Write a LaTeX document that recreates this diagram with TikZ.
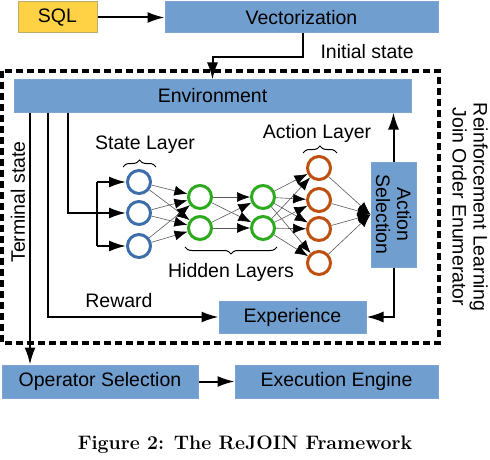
\documentclass[tikz,border=0pt]{standalone}
\usepackage{fontspec}
\setsansfont{Liberation Sans}
\usetikzlibrary{positioning, arrows.meta, decorations.pathreplacing}

\definecolor{boxblue}{RGB}{112,158,207}
\definecolor{boxline}{RGB}{125,165,210}
\definecolor{sqlyellow}{RGB}{255,210,70}
\definecolor{sqlline}{RGB}{190,170,110}
\definecolor{nblue}{RGB}{60,110,170}
\definecolor{ngreen}{RGB}{45,170,30}
\definecolor{norange}{RGB}{190,80,15}

\begin{document}
\begin{tikzpicture}[x=1pt,y=-1pt,
    every node/.style={font=\sffamily\fontsize{19.5}{21}\selectfont},
    box/.style={draw=boxline,fill=boxblue,line width=1pt,inner sep=0pt},
    neuron/.style={circle,line width=3pt,minimum size=23pt,inner sep=0pt},
    main/.style={line width=2pt,-{Latex[length=17pt,width=11pt]}},
    link/.style={line width=0.6pt,draw=black!65,-{Latex[length=13pt,width=10pt,black]}},
    brace/.style={decorate,decoration={brace,amplitude=7pt},line width=1pt}]
        \useasboundingbox (0,0) rectangle (490,460);
        \node[box,fill=sqlyellow,draw=sqlline,minimum width=79,minimum height=31] (sql) at (57.5,17.5) {SQL};
        \node[box,minimum width=273,minimum height=31] (vec) at (301.5,17.5) {Vectorization};
        \node[box,minimum width=397,minimum height=32] (env) at (212.5,96) {Environment};
        \node[box,minimum width=105,minimum height=45,align=center,rotate=-90] (asel) at (393.5,214.5) {Action\\Selection};
        \node[box,minimum width=147,minimum height=32] (exp) at (292.5,317) {Experience};
        \node[box,minimum width=196,minimum height=33] (opsel) at (100,381.5) {Operator Selection};
        \node[box,minimum width=203,minimum height=33] (exec) at (336.5,381.5) {Execution Engine};
        \draw[line width=3.5pt,dash pattern=on 7pt off 4pt] (2,71) rectangle (439,343);

        \foreach \i/\y in {1/182,2/213,3/246}
            \node[neuron,draw=nblue] (s_\i) at (139,\y) {};
        \foreach \i/\y in {1/197,2/228} {
            \node[neuron,draw=ngreen] (h_\i) at (200,\y) {};
            \node[neuron,draw=ngreen] (g_\i) at (263,\y) {};
        }
        \foreach \i/\y in {1/168,2/200,3/229,4/263}
            \node[neuron,draw=norange] (o_\i) at (319,\y) {};

        \foreach \a in {1,2,3}
            \foreach \b in {1,2}
                \draw[link] (s_\a) -- (h_\b);
        \foreach \a in {1,2}
            \foreach \b in {1,2}
                \draw[link] (h_\a) -- (g_\b);
        \foreach \a in {1,2}
            \foreach \b in {1,2,3,4}
                \draw[link] (g_\a) -- (o_\b);
        \foreach \a in {1,2,3,4}
            \draw[link] (o_\a) -- (asel.south);

        \coordinate (init) at (303,57);
        \coordinate (term) at (30,0);
        \coordinate (rew) at (48,317);
        \coordinate (st) at (68,213);
        \coordinate (split) at (97,213);
        \draw[main] (sql) -- (vec);
        \draw[main] (init |- vec.south) -- (init) -| (env.north);
        \draw[main] (term |- env.south) -- (term |- opsel.north);
        \draw[main] (rew |- env.south) -- (rew) -- (exp.west);
        \draw[line width=2pt] (st |- env.south) -- (st) -- (split);
        \draw[line width=2pt] (split |- s_1) -- (split |- s_3);
        \foreach \i in {1,2,3}
            \draw[main] (split |- s_\i) -- (s_\i.west);
        \draw[main] (asel.west) -- (asel.west |- env.south);
        \draw[main] (asel.east) |- (exp.east);
        \draw[main] (opsel) -- (exec);

        \node[anchor=west] (initlbl) at (317,52) {Initial state};
        \node[rotate=90] (termlbl) at (18,202) {Terminal state};
        \node (rewlbl) at (119,301) {Reward};
        \node (statelbl) at (145,145) {State Layer};
        \node (actlbl) at (317,133) {Action Layer};
        \node (hidlbl) at (231,272) {Hidden Layers};
        \node[rotate=-90,align=center] (rljoe) at (470,207) {Reinforcement Learning\\Join Order Enumerator};
        \draw[brace] (123,167) -- (156,167);
        \draw[brace] (303,153) -- (337,153);
        \draw[brace] (277,247) -- (185,247);

        \node[font=\bfseries\fontsize{19.5}{22}\selectfont] (cap) at (245,445) {Figure 2: The ReJOIN Framework};
\end{tikzpicture}
\end{document}
